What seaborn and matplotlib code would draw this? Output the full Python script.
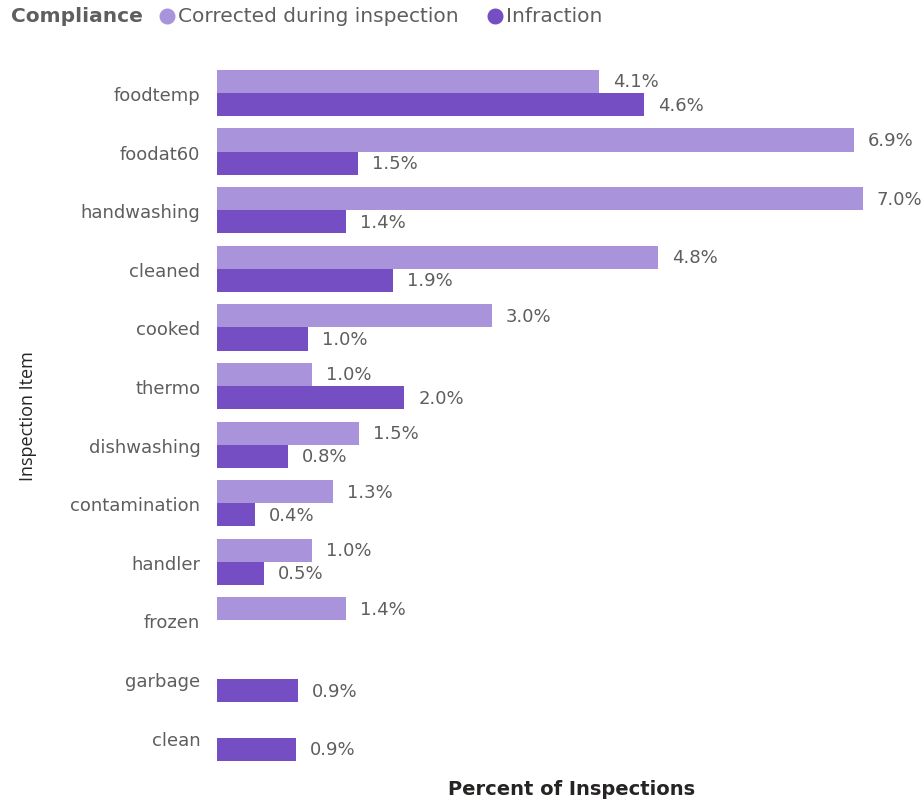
import numpy as np
import pandas as pd
import matplotlib
matplotlib.use("Agg")
import matplotlib.pyplot as plt
from matplotlib.lines import Line2D
import seaborn as sns

items = ["foodtemp", "foodat60", "handwashing", "cleaned", "cooked", "thermo",
         "dishwashing", "contamination", "handler", "frozen", "garbage", "clean"]
corrected = [4.14, 6.90, 7.00, 4.78, 2.98, 1.03, 1.54, 1.26, 1.03, 1.40, np.nan, np.nan]
infraction = [4.63, 1.53, 1.40, 1.91, 0.99, 2.03, 0.77, 0.41, 0.51, np.nan, 0.88, 0.86]
series = ["Corrected during inspection", "Infraction"]
colors = ["#A994DB", "#744EC2"]

rows = []
for it, c, i in zip(items, corrected, infraction):
    rows.append((it, series[0], c))
    rows.append((it, series[1], i))
df = pd.DataFrame(rows, columns=["item", "compliance", "value"]).dropna()

sns.set_theme(style="white")
plt.rcParams["font.family"] = ["DejaVu Sans"]

fig = plt.figure(figsize=(9.24, 8.03), dpi=100)
ax = fig.add_axes([0.2348, 0.0436, 0.755, 0.8758])

sns.barplot(data=df, y="item", x="value", hue="compliance", order=items,
            hue_order=series, palette=colors, orient="h", width=0.79,
            ax=ax, legend=False, saturation=1, edgecolor="none")

for cont in ax.containers:
    ax.bar_label(cont, labels=[f"{v:.1f}%" for v in cont.datavalues],
                 padding=10, fontsize=13, color="#605E5C")

ax.set_xlim(0, 7.56)
ax.set_ylim(11.5, -0.5)
for s in ax.spines.values():
    s.set_visible(False)
ax.set_xticks([])
ax.tick_params(axis="y", length=0, pad=12, labelsize=13, labelcolor="#605E5C")
ax.set_ylabel("Inspection Item", fontsize=13, color="#252423",
              family=["Open Sans", "DejaVu Sans"])
ax.yaxis.set_label_coords(-0.271, 0.5)
ax.yaxis.label.set_va("center")
ax.set_xlabel("Percent of Inspections", fontsize=14, color="#252423",
              fontweight="bold")
ax.xaxis.set_label_coords(0.5086, -0.031)
ax.xaxis.label.set_va("center")

ly = 1 - 17 / 803
fig.text(11 / 924, ly, "Compliance", fontsize=14.5, fontweight="bold",
         color="#605E5C", va="center", ha="left")
for cx, tx, c, lab in [(167, 178, colors[0], series[0]), (495, 506, colors[1], series[1])]:
    fig.add_artist(Line2D([cx / 924], [ly], marker="o", linestyle="none",
                          markersize=10.5, markerfacecolor=c, markeredgecolor=c,
                          transform=fig.transFigure))
    fig.text(tx / 924, ly, lab, fontsize=14.5, color="#605E5C",
             va="center", ha="left")

fig.savefig("out.png", dpi=100)
